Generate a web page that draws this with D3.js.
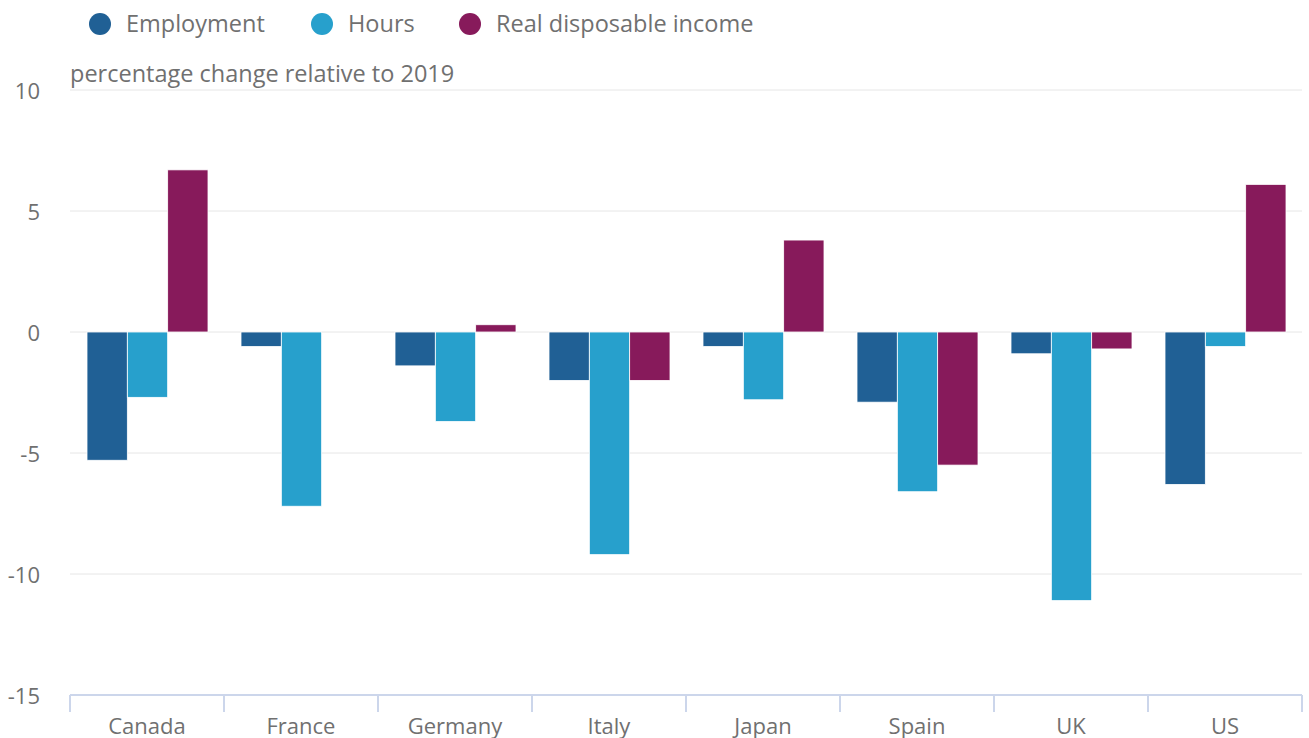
<!DOCTYPE html>
<html>
<head>
<meta charset="utf-8">
<script src="https://cdn.jsdelivr.net/npm/d3@7"></script>
<style>
  body { margin: 0; background: #fff; }
  svg text { font-family: "Open Sans", sans-serif; fill: #707070; }
</style>
</head>
<body>
<svg id="chart"></svg>
<script>
const countries = ['Canada', 'France', 'Germany', 'Italy', 'Japan', 'Spain', 'UK', 'US'];
const seriesNames = ['Employment', 'Hours', 'Real disposable income'];
const employment = [-5.3, -0.6, -1.4, -2.0, -0.6, -2.9, -0.9, -6.3];
const hours = [-2.7, -7.2, -3.7, -9.2, -2.8, -6.6, -11.1, -0.6];
const income = [6.7, 0, 0.3, -2.0, 3.8, -5.5, -0.7, 6.1];
const yTicks = [-15, -10, -5, 0, 5, 10];
const colours = ['#206095', '#27a0cc', '#871a5b'];

const seriesValues = [employment, hours, income];

const width = 1309, height = 738;
const svg = d3.select('#chart')
  .attr('width', width)
  .attr('height', height);

const x = d3.scaleBand().domain(countries).range([70, 1302]).paddingInner(0).paddingOuter(0);
const x1 = d3.scaleBand().domain(seriesNames).range([17, x.bandwidth() - 16]);
const y = d3.scaleLinear().domain([-15, 10]).range([695, 90]);

// gridlines
svg.append('g')
  .selectAll('line')
  .data(yTicks.filter(d => d !== -15))
  .join('line')
  .attr('x1', 70).attr('x2', 1302)
  .attr('y1', d => y(d)).attr('y2', d => y(d))
  .attr('stroke', '#e6e6e6')
  .attr('stroke-width', 1);

// y labels (hyphen minus like the original)
const gy = svg.append('g')
  .attr('transform', 'translate(40,0)')
  .call(d3.axisLeft(y).tickValues(yTicks).tickSize(0).tickPadding(0).tickFormat(d => String(d)));
gy.select('.domain').remove();
gy.selectAll('text')
  .attr('font-size', 22)
  .attr('dy', '0.4em');

// bars
const groups = svg.append('g')
  .selectAll('g')
  .data(countries)
  .join('g')
  .attr('transform', d => `translate(${x(d)},0)`);

groups.selectAll('rect')
  .data((c, i) => seriesNames.map((s, j) => ({ s, j, v: seriesValues[j][i] })))
  .join('rect')
  .attr('x', d => x1(d.s))
  .attr('width', x1.bandwidth())
  .attr('y', d => y(Math.max(0, d.v)))
  .attr('height', d => Math.abs(y(d.v) - y(0)))
  .attr('fill', d => colours[d.j])
  .attr('stroke', '#fff')
  .attr('stroke-width', 0.8);

// x axis
const gx = svg.append('g')
  .attr('transform', 'translate(0,695)');
gx.append('line')
  .attr('x1', 70).attr('x2', 1302)
  .attr('stroke', '#ccd6eb').attr('stroke-width', 2);
gx.selectAll('.tick')
  .data(d3.range(countries.length + 1))
  .join('line')
  .attr('x1', i => 70 + i * x.bandwidth())
  .attr('x2', i => 70 + i * x.bandwidth())
  .attr('y1', 0).attr('y2', 17)
  .attr('stroke', '#ccd6eb').attr('stroke-width', 2);
gx.selectAll('text')
  .data(countries)
  .join('text')
  .attr('x', d => x(d) + x.bandwidth() / 2)
  .attr('y', 39)
  .attr('text-anchor', 'middle')
  .attr('font-size', 22)
  .text(d => d);

// axis title
svg.append('text')
  .attr('x', 70).attr('y', 82)
  .attr('font-size', 23.5)
  .text('percentage change relative to 2019');

// legend
const legendX = [100, 322, 470];
const legend = svg.append('g')
  .selectAll('g')
  .data(seriesNames)
  .join('g')
  .attr('transform', (d, i) => `translate(${legendX[i]},24)`);
legend.append('circle')
  .attr('r', 11)
  .attr('fill', (d, i) => colours[i]);
legend.append('text')
  .attr('x', 26)
  .attr('dy', '0.35em')
  .attr('font-size', 23.5)
  .text(d => d);
</script>
</body>
</html>
